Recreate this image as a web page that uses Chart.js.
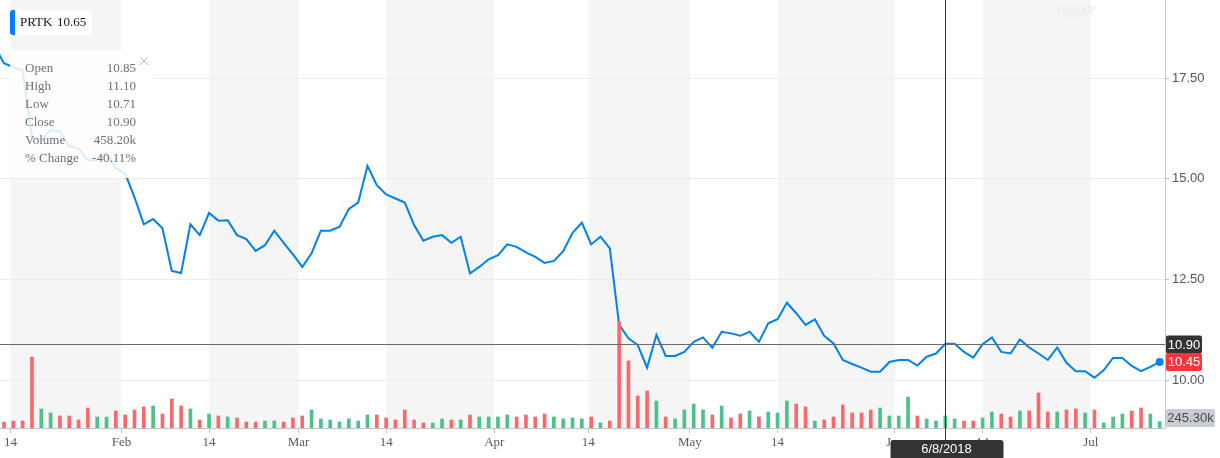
<!DOCTYPE html>
<html lang="en">
<head>
<meta charset="UTF-8">
<title>PRTK</title>
<style>
    html, body {
        margin: 0;
        padding: 0;
        background-color: #ffffff;
    }
    #wrap {
        width: 1220px;
        height: 458px;
    }
</style>
<script src="https://cdn.jsdelivr.net/npm/chart.js"></script>
</head>
<body>
<div id="wrap"><canvas id="priceChart" width="1220" height="458"></canvas></div>
<script>
    // trading days per month, 2018 (Jan 11 - Jul 12)
    const tradingDays = [
        [11, 12, 16, 17, 18, 19, 22, 23, 24, 25, 26, 29, 30, 31],
        [1, 2, 5, 6, 7, 8, 9, 12, 13, 14, 15, 16, 20, 21, 22, 23, 26, 27, 28],
        [1, 2, 5, 6, 7, 8, 9, 12, 13, 14, 15, 16, 19, 20, 21, 22, 23, 26, 27, 28, 29],
        [2, 3, 4, 5, 6, 9, 10, 11, 12, 13, 16, 17, 18, 19, 20, 23, 24, 25, 26, 27, 30],
        [1, 2, 3, 4, 7, 8, 9, 10, 11, 14, 15, 16, 17, 18, 21, 22, 23, 24, 25, 29, 30, 31],
        [1, 4, 5, 6, 7, 8, 11, 12, 13, 14, 15, 18, 19, 20, 21, 22, 25, 26, 27, 28, 29],
        [2, 3, 5, 6, 9, 10, 11, 12]
    ];

    // daily close
    const closeByMonth = [
        [18.28, 17.87, 17.77, 17.69, 16.03, 15.96, 16.21, 16.17, 15.81, 15.75, 15.46, 15.46, 15.63, 15.26],
        [15.13, 14.54, 13.87, 14.00, 13.77, 12.71, 12.66, 13.87, 13.60, 14.15, 13.96, 13.97, 13.60, 13.50, 13.21, 13.35, 13.71, 13.41, 13.12],
        [12.81, 13.15, 13.71, 13.71, 13.81, 14.25, 14.41, 15.32, 14.84, 14.61, 14.51, 14.41, 13.85, 13.46, 13.56, 13.60, 13.41, 13.56, 12.65, 12.81, 13.00],
        [13.10, 13.37, 13.31, 13.17, 13.06, 12.91, 12.96, 13.20, 13.66, 13.91, 13.37, 13.56, 13.27, 11.37, 11.04, 10.87, 10.31, 11.12, 10.60, 10.60, 10.70],
        [10.95, 11.06, 10.80, 11.20, 11.16, 11.10, 11.20, 10.95, 11.41, 11.51, 11.92, 11.66, 11.37, 11.51, 11.10, 10.91, 10.50, 10.40, 10.31, 10.21, 10.21, 10.45],
        [10.50, 10.50, 10.36, 10.58, 10.66, 10.90, 10.90, 10.70, 10.56, 10.89, 11.06, 10.70, 10.66, 11.01, 10.81, 10.66, 10.50, 10.81, 10.43, 10.22, 10.22],
        [10.06, 10.25, 10.55, 10.55, 10.35, 10.22, 10.33, 10.45]
    ];

    // daily volume, thousands
    const volumeByMonth = [
        [300, 229, 267, 267, 2712, 726, 573, 458, 458, 306, 764, 420, 420, 649],
        [497, 688, 802, 840, 535, 1108, 840, 726, 306, 535, 458, 420, 382, 229, 229, 267, 267, 229, 382],
        [458, 688, 344, 306, 229, 344, 267, 497, 497, 382, 306, 688, 306, 191, 191, 344, 306, 306, 497, 420, 420],
        [420, 497, 420, 497, 420, 535, 420, 344, 382, 344, 420, 191, 267, 4049, 2559, 1222, 1413, 1031, 420, 344, 688],
        [917, 688, 497, 840, 382, 535, 649, 420, 611, 573, 1031, 917, 802, 267, 306, 420, 879, 573, 573, 688, 764, 458],
        [458, 1184, 458, 344, 267, 458, 344, 267, 267, 382, 611, 535, 420, 649, 649, 1337, 611, 611, 688, 726, 573],
        [688, 191, 420, 535, 649, 764, 535, 245]
    ];

    // u = up day, d = down day (spaces only for reading)
    const volumeDirByMonth = [
        'd dddd uu dddd uu d',
        'ddd u ddd u d u d u ddd uu dd',
        'd uuuuuuu dddddd uu d u d uu',
        'uu dddd uuuu d u ddddd u d uu',
        'uu d u dd u d uuu dd u dddddd uu',
        'uu d uuuu dd uu dd u ddd u dd u',
        'd uuu dd uu'
    ];

    const tickLabels = ['14', 'Feb', '14', 'Mar', '14', 'Apr', '14', 'May', '14', 'Jun', '14', 'Jul'];
    const tickDates = [[1, 14], [2, 1], [2, 14], [3, 1], [3, 14], [4, 1], [4, 14], [5, 1], [5, 14], [6, 1], [6, 14], [7, 1]];
    const priceTicks = [10, 12.5, 15, 17.5];

    const symbol = 'PRTK';
    const symbolPrice = '10.65';
    const crossDate = [6, 8];
    const tooltipLabels = ['Open', 'High', 'Low', 'Close', 'Volume', '% Change'];
    const tooltipValues = ['10.85', '11.10', '10.71', '10.90', '458.20k', '-40.11%'];
    const crossClose = 10.90;
    const lastVolumeText = '245.30k';
</script>
<script>
    const dates = [];
    tradingDays.forEach((list, m) => list.forEach(d => dates.push([m + 1, d])));
    const close = closeByMonth.flat();
    const volume = volumeByMonth.flat();
    const volumeDir = volumeDirByMonth.join('').replace(/ /g, '').split('');
    const last = close.length - 1;

    const RED = '#fb6869';
    const GREEN = '#4cc18a';
    const BLUE = '#0081f2';
    const SERIF = '"Liberation Serif", "Times New Roman", serif';
    const SANS = '"Liberation Sans", Arial, sans-serif';

    function dayIndex(m, d) {
        return dates.findIndex(p => p[0] > m || (p[0] === m && p[1] >= d));
    }

    // tick positions: month starts sit a bit before their first bar
    const tickPos = tickDates.map(([m, d]) => {
        const k = dayIndex(m, d);
        const exact = dates[k][0] === m && dates[k][1] === d;
        if (d === 1) return k - 0.4;
        return exact ? k : k - 0.3;
    });

    const crossIndex = dayIndex(crossDate[0], crossDate[1]);

    const bandsPlugin = {
        id: 'bands',
        beforeDraw(chart) {
            const ctx = chart.ctx;
            const area = chart.chartArea;
            const xs = chart.scales.x;
            ctx.save();
            ctx.fillStyle = '#f5f5f5';
            for (let i = 0; i + 1 < tickPos.length; i += 2) {
                const a = xs.getPixelForValue(tickPos[i]);
                const b = xs.getPixelForValue(tickPos[i + 1]);
                ctx.fillRect(a, area.top, b - a, area.bottom - area.top);
            }
            // faint watermark
            ctx.fillStyle = '#ebebeb';
            ctx.font = 'italic bold 10px ' + SANS;
            ctx.textAlign = 'center';
            ctx.textBaseline = 'middle';
            ctx.fillText('YAHOO!', 1075, 11);
            ctx.font = '5px ' + SANS;
            ctx.fillText('FINANCE', 1075, 18);
            ctx.restore();
        }
    };

    function box(ctx, x, y, w, h, r, fill) {
        ctx.beginPath();
        ctx.roundRect(x, y, w, h, r);
        ctx.fillStyle = fill;
        ctx.fill();
    }

    const overlayPlugin = {
        id: 'overlay',
        afterDraw(chart) {
            const ctx = chart.ctx;
            const area = chart.chartArea;
            const xs = chart.scales.x;
            const ys = chart.scales.y;
            const yv = chart.scales.yv;
            ctx.save();

            // crosshair
            const cx = Math.round(xs.getPixelForValue(crossIndex)) + 0.5;
            const cy = Math.round(ys.getPixelForValue(crossClose)) + 0.5;
            ctx.lineWidth = 1;
            ctx.strokeStyle = '#6a6a6a';
            ctx.beginPath();
            ctx.moveTo(area.left, cy);
            ctx.lineTo(area.right, cy);
            ctx.stroke();
            ctx.strokeStyle = '#333333';
            ctx.beginPath();
            ctx.moveTo(cx, area.top);
            ctx.lineTo(cx, area.bottom + 12);
            ctx.stroke();

            // right side value tags
            ctx.font = '13px ' + SANS;
            ctx.textAlign = 'center';
            ctx.textBaseline = 'middle';
            const tx = area.right + 1;
            box(ctx, tx, cy - 9, 36, 18, 2, '#333333');
            ctx.fillStyle = '#ffffff';
            ctx.fillText(crossClose.toFixed(2), tx + 18, cy + 0.5);

            const ly = ys.getPixelForValue(close[last]);
            box(ctx, tx, ly - 9, 36, 18, 2, '#ff333a');
            ctx.fillStyle = '#ffffff';
            ctx.fillText(close[last].toFixed(2), tx + 18, ly + 0.5);

            const vy = Math.min(yv.getPixelForValue(volume[last]), area.bottom - 10);
            box(ctx, tx, vy - 9, 49, 18, 2, '#c9ccd3');
            ctx.fillStyle = '#4a4a4a';
            ctx.fillText(lastVolumeText, tx + 24.5, vy + 0.5);

            // date tag
            const dd = dates[crossIndex];
            box(ctx, cx - 55, area.bottom + 12, 113, 20, 3, '#333333');
            ctx.fillStyle = '#ffffff';
            ctx.font = '13px ' + SANS;
            ctx.fillText(dd[0] + '/' + dd[1] + '/2018', cx + 1, area.bottom + 21);

            // symbol legend
            box(ctx, 10, 10, 82, 25, 3, '#ffffff');
            box(ctx, 10, 10, 5, 25, [3, 0, 0, 3], BLUE);
            ctx.fillStyle = '#111111';
            ctx.font = '13px ' + SERIF;
            ctx.textAlign = 'left';
            ctx.fillText(symbol, 20, 23);
            ctx.fillText(symbolPrice, 57, 23);

            // tooltip
            box(ctx, 10, 50, 143, 128, 4, 'rgba(255,255,255,0.85)');
            ctx.font = '13px ' + SERIF;
            ctx.fillStyle = '#6f6f6f';
            tooltipLabels.forEach((label, i) => {
                const y = 69 + i * 17.9;
                ctx.textAlign = 'left';
                ctx.fillText(label, 25, y);
                ctx.textAlign = 'right';
                ctx.fillText(tooltipValues[i], 136, y);
            });
            ctx.strokeStyle = '#bdbdbd';
            ctx.lineWidth = 1;
            ctx.beginPath();
            ctx.moveTo(140, 57);
            ctx.lineTo(148, 65);
            ctx.moveTo(148, 57);
            ctx.lineTo(140, 65);
            ctx.stroke();

            ctx.restore();
        }
    };

    const ctx = document.getElementById('priceChart').getContext('2d');
    new Chart(ctx, {
        data: {
            datasets: [
                {
                    type: 'line',
                    data: close.map((v, k) => ({x: k, y: v})),
                    yAxisID: 'y',
                    borderColor: BLUE,
                    borderWidth: 2,
                    tension: 0,
                    pointRadius: c => c.dataIndex === last ? 4 : 0,
                    pointBackgroundColor: BLUE,
                    pointBorderWidth: 0,
                    order: 1
                },
                {
                    type: 'bar',
                    data: volume.map((v, k) => ({x: k, y: v})),
                    yAxisID: 'yv',
                    backgroundColor: volumeDir.map(d => d === 'u' ? GREEN : RED),
                    barThickness: 3,
                    order: 0
                }
            ]
        },
        options: {
            responsive: false,
            animation: false,
            layout: { padding: 0, autoPadding: false },
            plugins: {
                legend: { display: false },
                tooltip: { enabled: false }
            },
            scales: {
                x: {
                    type: 'linear',
                    offset: false,
                    min: 0.57,
                    max: 125.57,
                    afterBuildTicks: s => { s.ticks = tickPos.map(v => ({value: v})); },
                    afterFit: s => {
                        s.height = 30;
                        s.paddingLeft = 0;
                        s.paddingRight = 0;
                    },
                    ticks: {
                        autoSkip: false,
                        maxRotation: 0,
                        padding: 2,
                        color: '#5a5a5a',
                        font: { family: SERIF, size: 13 },
                        callback: (v, i) => tickLabels[i]
                    },
                    grid: { offset: false, drawOnChartArea: false, drawTicks: true, tickLength: 5, color: '#c4c4c4' },
                    border: { display: true, color: '#c4c4c4' }
                },
                y: {
                    position: 'right',
                    min: 8.81,
                    max: 19.44,
                    afterBuildTicks: s => { s.ticks = priceTicks.map(v => ({value: v})); },
                    afterFit: s => {
                        s.width = 55;
                        s.paddingTop = 0;
                        s.paddingBottom = 0;
                    },
                    ticks: {
                        padding: 3,
                        color: '#555555',
                        font: { family: SANS, size: 13 },
                        callback: v => Number(v).toFixed(2)
                    },
                    grid: { color: '#ececec', tickColor: '#bbbbbb', tickLength: 4 },
                    border: { display: true, color: '#c4c4c4' }
                },
                yv: {
                    display: false,
                    min: 0,
                    max: 16340
                }
            }
        },
        plugins: [bandsPlugin, overlayPlugin]
    });
</script>
</body>
</html>
